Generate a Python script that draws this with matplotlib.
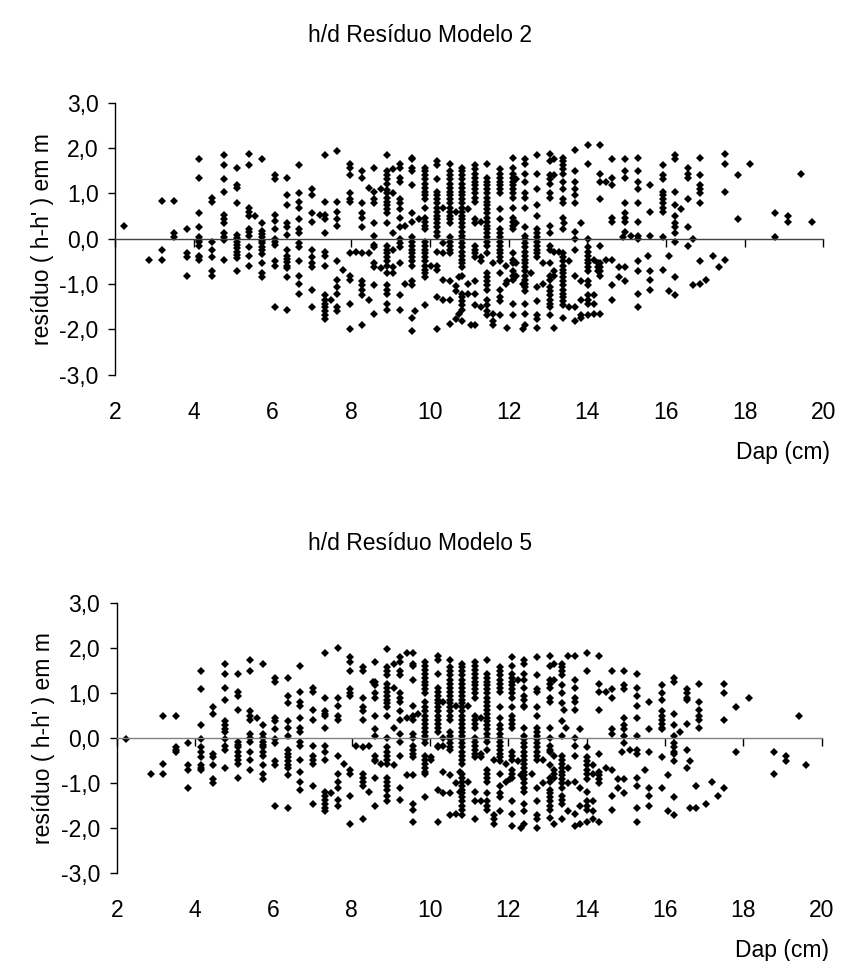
import matplotlib
matplotlib.use("Agg")
import matplotlib.pyplot as plt
import matplotlib.ticker as ticker

plt.rcParams["font.family"] = ["Liberation Sans", "DejaVu Sans"]

# ---- data: each DAP column (cm) with the residuals (m) read at it ----
dap_m2 = [2.23, 2.86, 3.18, 3.50, 3.82, 4.14, 4.46, 4.77, 5.09, 5.41, 5.56,
          5.73, 6.05, 6.37, 6.68, 7.00, 7.20, 7.32, 7.48, 7.64, 7.80, 7.96,
          8.11, 8.28, 8.44, 8.59, 8.75, 8.91, 9.07, 9.23, 9.37, 9.55, 9.61,
          9.73, 9.87, 10.03, 10.19, 10.34, 10.50, 10.66, 10.74, 10.82, 10.98,
          11.04, 11.14, 11.30, 11.46, 11.60, 11.78, 11.93, 11.96, 12.10,
          12.20, 12.36, 12.41, 12.56, 12.73, 12.88, 13.05, 13.15, 13.27,
          13.37, 13.42, 13.53, 13.69, 13.84, 14.01, 14.16, 14.26, 14.32,
          14.48, 14.64, 14.80, 14.91, 14.96, 15.11, 15.28, 15.55, 15.60,
          15.92, 16.07, 16.23, 16.38, 16.55, 16.68, 16.87, 17.03, 17.19,
          17.34, 17.51, 17.83, 18.14, 18.78, 19.10, 19.42, 19.70]
res_m2 = [
    [0.29],
    [-0.46],
    [0.83, -0.24, -0.46],
    [0.83, 0.12, 0.04],
    [0.21, -0.32, -0.41, -0.81],
    [1.75, 1.35, 0.56, 0.25, 0.03, -0.02, -0.08, -0.15, -0.37, -0.41, -0.46],
    [0.89, 0.82, -0.08, -0.24, -0.41, -0.72, -0.81],
    [1.84, 1.62, 1.31, 1.04, 0.52, 0.43, 0.35, 0.12, 0.05, -0.02, -0.46],
    [1.57, 1.18, 1.11, 0.78, 0.09, 0.01, -0.06, -0.13, -0.21, -0.28, -0.35,
     -0.43, -0.72],
    [1.88, 1.62, 0.69, 0.60, 0.51, 0.22, 0.15, 0.07, -0.19, -0.37, -0.59],
    [0.51],
    [1.75, 0.35, 0.18, 0.11, 0.05, -0.04, -0.10, -0.17, -0.24, -0.33, -0.54,
     -0.76, -0.85],
    [1.40, 1.31, 0.52, 0.39, 0.21, -0.01, -0.08, -0.13, -0.50, -0.59, -1.51],
    [1.35, 0.96, 0.74, 0.35, 0.27, 0.08, -0.24, -0.37, -0.44, -0.51, -0.59,
     -0.65, -0.85, -1.56],
    [1.62, 1.00, 0.82, 0.69, 0.43, 0.21, 0.12, -0.10, -0.19, -0.50, -0.81,
     -0.99, -1.21],
    [1.09, 0.96, 0.56, 0.38, -0.24, -0.41, -0.54, -0.63, -1.12, -1.51],
    [0.52],
    [1.84, 0.82, 0.52, 0.43, 0.12, -0.28, -0.37, -0.59, -1.25, -1.34, -1.43,
     -1.51, -1.60, -1.69, -1.78],
    [-1.34],
    [1.93, 0.82, 0.60, 0.43, 0.29, -0.50, -0.90, -1.07, -1.21, -1.51, -1.60],
    [-0.68],
    [1.66, 1.57, 1.40, 1.00, 0.87, 0.82, -0.32, -0.81, -0.90, -1.43, -2.00],
    [-0.28],
    [1.49, 1.35, 0.78, 0.56, 0.47, 0.25, -0.32, -0.94, -1.03, -1.12, -1.25,
     -1.91],
    [1.13, -0.32, -1.34],
    [1.57, 1.04, 0.87, 0.78, 0.34, 0.07, -0.13, -0.17, -0.54, -0.63, -1.03,
     -1.65],
    [1.09, -0.65],
    [1.84, 1.49, 1.40, 1.31, 1.22, 1.07, 1.00, 0.91, 0.82, 0.74, 0.65, 0.56,
     0.34, -0.15, -0.24, -0.32, -0.41, -0.50, -0.59, -0.76, -1.03, -1.12,
     -1.21, -1.43, -1.56],
    [1.53, 1.00, 0.12, -0.24, -0.63, -0.76],
    [1.66, 1.57, 1.35, 1.26, 0.87, 0.78, 0.65, 0.47, 0.25, -0.01, -0.10,
     -0.19, -0.54, -1.25, -1.56],
    [0.29, -0.99],
    [1.79, 1.75, 1.57, 1.49, 1.18, 0.56, 0.38, 0.03, -0.06, -0.15, -0.24,
     -0.32, -0.41, -0.50, -0.59, -0.94, -1.03, -1.74, -2.04],
    [-1.60],
    [0.43],
    [1.57, 1.49, 1.40, 1.31, 1.22, 1.13, 1.04, 0.96, 0.87, 0.69, 0.47, 0.38,
     0.29, 0.21, -0.06, -0.15, -0.24, -0.32, -0.41, -0.50, -0.59, -0.68,
     -0.76, -0.85, -1.47],
    [-0.59],
    [1.71, 1.62, 1.31, 1.04, 0.96, 0.87, 0.78, 0.69, 0.60, 0.51, 0.43, 0.34,
     0.25, 0.16, 0.07, -0.28, -0.59, -0.68, -1.29, -2.00],
    [0.69, -0.10, -0.32, -0.90, -1.34],
    [1.66, 1.49, 1.40, 1.31, 1.22, 1.13, 1.04, 0.96, 0.87, 0.78, 0.69, 0.60,
     0.51, 0.43, 0.34, 0.03, -0.06, -0.15, -0.24, -0.32, -0.94, -1.34, -1.87],
    [0.60, -1.05, -1.16, -1.78],
    [-0.85, -1.65],
    [1.57, 1.49, 1.40, 1.31, 1.22, 1.13, 1.04, 0.96, 0.87, 0.78, 0.69, 0.60,
     0.51, 0.43, 0.34, 0.25, 0.16, 0.07, -0.01, -0.10, -0.19, -0.28, -0.37,
     -0.46, -0.54, -0.63, -0.81, -1.21, -1.29, -1.38, -1.47, -1.56, -1.82],
    [0.65, -0.99, -1.21],
    [-1.91],
    [1.62, 1.53, 1.44, 1.35, 1.26, 1.18, 1.09, 1.00, 0.91, 0.82, 0.43, 0.34,
     -0.15, -0.24, -0.32, -0.41, -0.94, -1.21, -1.47, -1.91],
    [0.38, -0.41, -0.50, -1.51],
    [1.66, 1.35, 1.26, 1.18, 1.09, 1.00, 0.91, 0.82, 0.74, 0.65, 0.56, 0.47,
     0.38, 0.29, 0.21, 0.12, 0.03, -0.06, -0.15, -0.32, -0.76, -0.85, -0.94,
     -1.03, -1.12, -1.34, -1.47, -1.60, -1.69],
    [-0.54, -1.65, -1.82, -1.91],
    [1.53, 1.44, 1.35, 1.26, 1.18, 1.09, 1.00, 0.65, 0.43, 0.21, 0.12, 0.03,
     -0.06, -0.15, -0.24, -0.32, -0.41, -0.50, -0.76, -1.12, -1.29, -1.38,
     -1.69],
    [-0.59, -0.99],
    [-0.94, -1.96],
    [1.79, 1.57, 1.44, 1.35, 1.26, 1.18, 1.09, 1.00, 0.91, 0.69, 0.47, 0.38,
     0.29, 0.21, -0.32, -0.46, -0.54, -0.72, -0.81, -0.90, -1.43, -1.69],
    [1.31, 0.34, -0.54, -0.81],
    [-0.99, -2.00],
    [1.75, 1.66, 1.44, 1.26, 1.00, 0.91, 0.69, 0.25, 0.07, -0.01, -0.10,
     -0.19, -0.28, -0.37, -0.46, -0.54, -0.63, -0.72, -0.81, -0.90, -0.99,
     -1.07, -1.16, -1.43, -1.65, -1.91],
    [-0.76],
    [1.84, 1.44, 1.09, 0.74, 0.51, 0.21, 0.12, 0.03, -0.06, -0.15, -0.24,
     -0.32, -0.41, -1.07, -1.38, -1.69, -1.78, -1.96],
    [-0.54, -0.99],
    [1.88, 1.71, 1.40, 1.31, 1.22, 1.00, 0.91, 0.29, 0.12, -0.15, -0.24,
     -0.54, -0.81, -0.90, -1.07, -1.16, -1.25, -1.34, -1.43, -1.51, -1.69],
    [1.75, 1.40, -0.28, -0.72, -0.81, -1.96],
    [-0.28],
    [1.79, 1.71, 1.62, 1.53, 1.44, 1.26, 1.09, 0.87, 0.78, 0.47, 0.21, -0.32,
     -0.41, -0.50, -0.59, -0.68, -0.76, -0.85, -0.94, -1.03, -1.12, -1.21,
     -1.29, -1.38, -1.47, -1.74],
    [0.34],
    [-0.50, -1.51],
    [1.97, 1.49, 1.26, 1.09, 0.96, 0.78, 0.16, -0.01, -0.24, -0.81, -1.51,
     -1.82],
    [0.34, -0.94, -1.34, -1.69, -1.74],
    [2.06, 1.66, -0.01, -0.19, -0.28, -0.37, -0.46, -0.54, -0.63, -0.72,
     -0.94, -1.03, -1.25, -1.34, -1.43, -1.69],
    [-0.46, -1.25, -1.43, -1.65],
    [-0.54, -0.63, -0.72],
    [2.06, 1.44, 1.26, 0.87, -0.15, -0.54, -0.63, -0.72, -0.81, -1.65],
    [1.26, -0.46],
    [1.75, 1.35, 1.18, 0.47, 0.38, -0.46, -1.03, -1.34],
    [-0.63, -0.85],
    [0.03],
    [1.75, 1.49, 1.35, 0.78, 0.56, 0.47, 0.38, 0.16, -0.63, -0.94],
    [0.07],
    [1.79, 1.49, 1.26, 1.09, 0.78, 0.38, 0.07, -0.01, -0.50, -0.72, -1.21,
     -1.51],
    [-0.37],
    [1.18, 0.60, 0.07, -0.72, -0.90, -1.12],
    [1.62, 1.40, 1.31, 1.04, 0.96, 0.87, 0.78, 0.69, 0.60, 0.03, -0.68],
    [-0.37, -1.16],
    [1.84, 1.75, 1.04, 0.74, 0.51, 0.34, 0.25, 0.12, -0.06, -0.85, -1.25],
    [0.65],
    [1.57, 1.44, 1.35, 0.87, 0.25, -0.15],
    [-0.01, -1.03],
    [1.79, 1.40, 1.18, 1.09, 1.00, 0.78, -0.50, -0.99],
    [-0.90],
    [-0.37],
    [-0.63],
    [1.88, 1.66, 1.04, -0.46],
    [1.40, 0.43],
    [1.66],
    [0.56, 0.03],
    [0.51, 0.38],
    [1.44],
    [0.38],
]

dap_m5 = [2.23, 2.86, 3.18, 3.50, 3.82, 4.14, 4.46, 4.77, 5.09, 5.41, 5.57,
          5.73, 6.05, 6.37, 6.68, 7.00, 7.32, 7.48, 7.64, 7.80, 7.96, 8.11,
          8.28, 8.44, 8.53, 8.59, 8.75, 8.91, 9.07, 9.23, 9.42, 9.55, 9.70,
          9.87, 10.03, 10.19, 10.34, 10.50, 10.66, 10.76, 10.82, 10.98,
          11.14, 11.30, 11.46, 11.62, 11.78, 11.93, 12.05, 12.10, 12.25,
          12.33, 12.41, 12.59, 12.73, 12.88, 13.05, 13.16, 13.37, 13.42,
          13.47, 13.52, 13.69, 13.84, 14.01, 14.16, 14.32, 14.48, 14.64,
          14.80, 14.91, 14.96, 15.11, 15.28, 15.48, 15.60, 15.92, 16.07,
          16.23, 16.38, 16.55, 16.65, 16.80, 16.87, 17.05, 17.19, 17.35,
          17.51, 17.81, 18.14, 18.78, 19.10, 19.42, 19.60]
res_m5 = [
    [-0.04],
    [-0.80],
    [0.49, -0.58, -0.80],
    [0.49, -0.21, -0.27, -0.33],
    [-0.13, -0.62, -0.71, -1.11],
    [1.47, 1.07, 0.27, -0.04, -0.22, -0.31, -0.44, -0.62, -0.67, -0.71],
    [0.67, 0.53, -0.36, -0.44, -0.62, -0.93, -1.02],
    [1.64, 1.42, 1.11, 0.84, 0.36, 0.27, 0.18, 0.13, -0.04, -0.18, -0.27,
     -0.67],
    [1.42, 1.02, 0.93, 0.62, -0.09, -0.16, -0.22, -0.31, -0.40, -0.49,
     -0.58, -0.89],
    [1.73, 1.47, 0.58, 0.49, 0.40, 0.09, 0.00, -0.09, -0.31, -0.49, -0.71],
    [0.44],
    [1.64, 0.27, 0.09, 0.00, -0.09, -0.16, -0.22, -0.31, -0.40, -0.62,
     -0.80, -0.93],
    [1.33, 1.24, 0.44, 0.36, 0.18, -0.04, -0.13, -0.53, -0.62, -1.51],
    [1.33, 0.93, 0.76, 0.36, 0.22, 0.04, -0.27, -0.36, -0.44, -0.53, -0.62,
     -0.67, -0.84, -1.56],
    [1.60, 1.02, 0.80, 0.71, 0.44, 0.22, 0.13, -0.09, -0.18, -0.49, -0.76,
     -0.98, -1.16],
    [1.11, 1.02, 0.62, 0.40, -0.18, -0.40, -0.49, -0.58, -1.07, -1.47],
    [1.87, 0.89, 0.58, 0.53, 0.49, 0.22, -0.18, -0.31, -0.49, -1.20, -1.29,
     -1.38, -1.47, -1.56, -1.64],
    [-1.24],
    [2.00, 0.89, 0.71, 0.49, 0.40, -0.40, -0.80, -0.98, -1.11, -1.38, -1.51],
    [-0.58],
    [1.78, 1.69, 1.47, 1.07, 0.98, 0.93, -0.71, -0.80, -1.29, -1.91],
    [-0.18],
    [1.56, 1.47, 0.89, 0.67, 0.58, 0.40, -0.22, -0.80, -0.89, -0.98, -1.07,
     -1.82],
    [-0.18, -1.20],
    [1.24],
    [1.69, 1.24, 1.16, 0.98, 0.89, 0.49, 0.18, 0.04, -0.40, -0.49, -0.53,
     -0.89, -1.51],
    [-0.58],
    [1.96, 1.56, 1.47, 1.38, 1.20, 1.11, 1.02, 0.93, 0.84, 0.76, 0.67, 0.49,
     0.00, -0.22, -0.31, -0.40, -0.49, -0.58, -0.89, -0.98, -1.07, -1.16,
     -1.29, -1.42],
    [1.64, 1.11, 0.22, -0.62],
    [1.78, 1.69, 1.47, 1.38, 0.98, 0.89, 0.80, 0.58, 0.40, 0.09, -0.09,
     -0.40, -1.11, -1.38],
    [1.87, 0.44, -0.84],
    [1.87, 1.64, 1.60, 1.29, 0.71, 0.49, 0.40, 0.09, 0.00, -0.18, -0.27,
     -0.36, -0.44, -0.84, -1.47, -1.60, -1.87],
    [0.53],
    [1.69, 1.60, 1.51, 1.42, 1.33, 1.24, 1.16, 1.07, 0.98, 0.80, 0.67, 0.58,
     0.49, 0.40, 0.31, 0.22, 0.13, 0.04, -0.04, -0.13, -0.40, -0.49, -0.58,
     -0.67, -0.76, -0.80, -1.33],
    [-0.44, -0.49],
    [1.82, 1.73, 1.42, 1.11, 1.02, 0.93, 0.84, 0.76, 0.67, 0.58, 0.49, 0.40,
     0.31, 0.22, 0.13, -0.18, -0.22, -1.16, -1.87],
    [0.80, 0.00, -0.18, -0.76, -1.24],
    [1.73, 1.56, 1.47, 1.38, 1.29, 1.20, 1.11, 1.02, 0.93, 0.84, 0.76, 0.67,
     0.58, 0.49, 0.40, 0.13, 0.04, -0.04, -0.13, -0.22, -0.27, -0.84, -1.24,
     -1.73],
    [0.71, -1.02, -1.69],
    [-0.76, -1.20],
    [1.64, 1.56, 1.47, 1.38, 1.29, 1.20, 1.11, 1.02, 0.93, 0.84, 0.76, 0.67,
     0.58, 0.49, 0.40, 0.31, 0.22, 0.13, 0.04, -0.04, -0.13, -0.22, -0.31,
     -0.40, -0.49, -0.58, -0.80, -0.89, -0.98, -1.07, -1.16, -1.24, -1.33,
     -1.42, -1.51, -1.60, -1.73],
    [0.71, -0.98],
    [1.69, 1.60, 1.51, 1.42, 1.33, 1.24, 1.16, 1.07, 0.98, 0.89, 0.49, 0.40,
     0.31, 0.22, 0.00, -0.09, -0.18, -0.27, -0.36, -0.44, -1.20, -1.42,
     -1.82],
    [0.44, -0.36, -0.44, -1.42],
    [1.73, 1.42, 1.33, 1.24, 1.16, 1.07, 0.98, 0.89, 0.80, 0.71, 0.62, 0.53,
     0.44, 0.36, 0.27, 0.18, 0.09, 0.00, -0.09, -0.27, -0.71, -0.80, -0.89,
     -0.98, -1.24, -1.42, -1.51, -1.60],
    [-0.49, -1.73, -1.82, -1.91],
    [1.56, 1.47, 1.38, 1.29, 1.20, 1.11, 1.02, 0.67, 0.44, 0.27, 0.18, 0.09,
     0.00, -0.09, -0.18, -0.27, -0.36, -0.44, -0.53, -0.80, -1.07, -1.24,
     -1.33, -1.64],
    [-0.58, -0.98],
    [-0.93],
    [1.78, 1.60, 1.42, 1.33, 1.24, 1.16, 1.07, 0.98, 0.89, 0.67, 0.49, 0.40,
     0.31, 0.22, -0.31, -0.40, -0.49, -0.71, -0.80, -0.89, -1.42, -1.69,
     -1.96],
    [1.29, -0.53],
    [-0.84, -2.00],
    [1.73, 1.64, 1.42, 1.29, 1.11, 0.93, 0.84, 0.71, 0.67, 0.22, 0.04,
     -0.04, -0.13, -0.22, -0.31, -0.40, -0.49, -0.58, -0.67, -0.76, -0.84,
     -0.93, -1.02, -1.11, -1.20, -1.47, -1.64, -1.91],
    [-0.80],
    [1.78, 1.38, 1.07, 1.02, 0.67, 0.49, 0.22, 0.13, 0.04, -0.04, -0.13,
     -0.22, -0.31, -0.40, -0.49, -1.11, -1.42, -1.73, -1.82, -2.00],
    [-0.49, -1.02],
    [1.82, 1.60, 1.29, 1.20, 1.11, 0.89, 0.80, 0.22, 0.00, -0.18, -0.27,
     -0.31, -0.62, -0.89, -0.98, -1.16, -1.24, -1.33, -1.42, -1.51, -1.60,
     -1.78],
    [1.64, 1.29, -0.40, -0.71, -0.80, -0.89, -1.91],
    [1.64, 1.56, 1.47, 1.38, 1.16, 0.98, 0.76, 0.36, 0.04, -0.40, -0.49,
     -0.58, -0.67, -0.76, -0.84, -0.93, -1.02, -1.11, -1.29, -1.38, -1.47,
     -1.82],
    [0.62],
    [0.22],
    [1.82, -0.67, -1.02, -1.64],
    [1.82, 1.29, 1.11, 0.89, 0.80, 0.62, 0.00, -0.18, -0.40, -0.98, -1.69,
     -1.96],
    [0.18, -1.11, -1.51, -1.91],
    [1.87, 1.47, -0.22, -0.44, -0.53, -0.62, -0.71, -0.80, -0.93, -1.20,
     -1.42, -1.51, -1.60, -1.87],
    [-0.62, -0.80, -1.42, -1.64, -1.82],
    [1.82, 1.20, 1.02, 0.62, -0.36, -0.76, -0.84, -0.93, -1.02, -1.87],
    [1.02, -0.67],
    [1.47, 1.07, 0.89, 0.18, 0.09, -0.71, -1.29, -1.60],
    [-0.93, -1.11],
    [-0.31],
    [1.47, 1.16, 1.07, 0.44, 0.27, 0.18, 0.04, -0.13, -0.93, -1.24],
    [-0.27],
    [1.42, 1.11, 0.93, 0.71, 0.44, 0.04, -0.27, -0.36, -0.89, -1.07, -1.56,
     -1.87],
    [-0.71],
    [0.80, 0.18, -0.31, -1.11, -1.29, -1.51],
    [1.16, 0.98, 0.84, 0.58, 0.49, 0.40, 0.31, 0.22, 0.18, -0.44, -1.11],
    [-0.84, -1.64],
    [1.33, 1.24, 0.53, 0.27, 0.04, -0.13, -0.22, -0.31, -0.36, -0.53, -1.33,
     -1.73],
    [0.13],
    [1.07, 0.98, 0.89, 0.84, 0.31, -0.27, -0.67],
    [-0.53, -1.56],
    [-1.07, -1.56],
    [1.20, 0.80, 0.62, 0.49, 0.40, 0.22],
    [-1.47],
    [-0.98],
    [-1.29],
    [1.20, 0.98, 0.40, -1.11],
    [0.67, -0.31],
    [0.89],
    [-0.31, -0.80],
    [-0.40, -0.53],
    [0.49],
    [-0.62],
]

x_ticks = [2, 4, 6, 8, 10, 12, 14, 16, 18, 20]
y_ticks = [-3, -2, -1, 0, 1, 2, 3]
titles = ["h/d Resíduo Modelo 2", "h/d Resíduo Modelo 5"]
y_label = "resíduo ( h-h' ) em m"
x_label = "Dap (cm)"

FS = 16.5


def comma_fmt(val: float, pos: int) -> str:
    """format y tick with decimal comma"""
    return f"{val:.1f}".replace(".", ",").replace("-0,0", "0,0")


def flatten(cols, vals):
    """expand column lists into x / y point lists"""
    xs, ys = [], []
    for x, col in zip(cols, vals):
        for v in col:
            xs.append(x)
            ys.append(v)
    return xs, ys


def draw_panel(fig, rect, cols, vals, zero_color):
    ax = fig.add_axes(rect)
    xs, ys = flatten(cols, vals)
    ax.plot(xs, ys, linestyle="none", marker="D", markersize=4.1,
            color="black", markeredgewidth=0)

    ax.set_xlim(2, 20)
    ax.set_ylim(-3, 3)
    ax.set_yticks(y_ticks)
    ax.yaxis.set_major_formatter(ticker.FuncFormatter(comma_fmt))
    ax.set_xticks(x_ticks)

    # x axis line crosses at zero, labels stay at the bottom
    ax.spines["top"].set_visible(False)
    ax.spines["right"].set_visible(False)
    ax.spines["bottom"].set_position(("data", 0))
    ax.spines["bottom"].set_color(zero_color)
    ax.spines["bottom"].set_linewidth(1.0)
    ax.spines["left"].set_linewidth(1.0)
    ax.tick_params(axis="x", direction="out", length=6, width=1.0,
                   color="black", labelbottom=False)
    ax.tick_params(axis="y", direction="out", length=5, width=1.0,
                   labelsize=FS, pad=7)

    sec = ax.secondary_xaxis("bottom")
    sec.set_xticks(x_ticks)
    sec.spines["bottom"].set_visible(False)
    sec.tick_params(length=0, pad=19, labelsize=FS)

    ax.set_ylabel(y_label, fontsize=FS, labelpad=4)
    ax.text(1.01, -0.245, x_label, transform=ax.transAxes, fontsize=FS,
            ha="right", va="top")
    return ax


def main() -> None:
    fig = plt.figure(figsize=(8.41, 9.61), dpi=100)
    draw_panel(fig, [0.137, 0.610, 0.842, 0.283], dap_m2, res_m2, "#404040")
    draw_panel(fig, [0.139, 0.092, 0.838, 0.281], dap_m5, res_m5, "#808080")
    fig.text(0.5, 1 - 35 / 961, titles[0], fontsize=FS, ha="center",
             va="center")
    fig.text(0.5, 1 - 543 / 961, titles[1], fontsize=FS, ha="center",
             va="center")
    fig.savefig("out.png", dpi=100, facecolor="white")


if __name__ == "__main__":
    main()
